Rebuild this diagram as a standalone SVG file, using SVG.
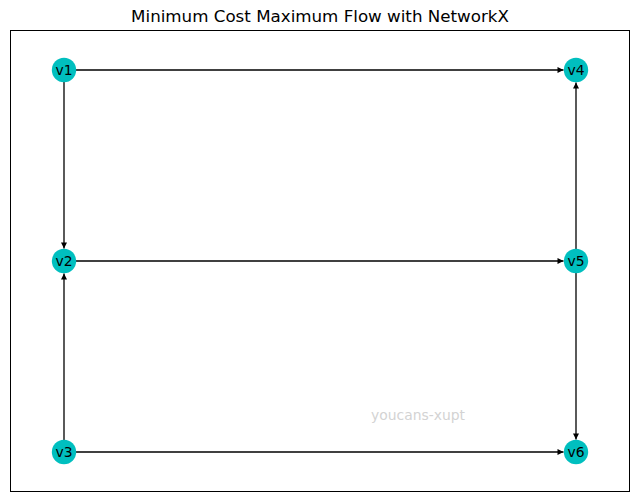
<svg xmlns="http://www.w3.org/2000/svg" width="640" height="502" viewBox="0 0 640 502">
<style>
.edge{stroke:#000;stroke-width:1.3;fill:none}
.node circle{fill:#00bfbf}
.node text{font-family:"DejaVu Sans",sans-serif;font-size:13.9px;fill:#000;text-anchor:middle;dominant-baseline:central}
</style>
<defs>
<marker id="arr" viewBox="0 0 10 10" refX="10" refY="5" markerWidth="7.5" markerHeight="6" markerUnits="userSpaceOnUse" orient="auto">
<path d="M0,0 L10,5 L0,10 Z" fill="#000"/>
</marker>
</defs>
<rect width="640" height="502" fill="#fff"/>
<rect x="10.5" y="30.5" width="619" height="461" fill="none" stroke="#000" stroke-width="1"/>
<text x="320" y="22" font-family="DejaVu Sans,sans-serif" font-size="16.7px" text-anchor="middle">Minimum Cost Maximum Flow with NetworkX</text>
<text x="418" y="420" font-family="DejaVu Sans,sans-serif" font-size="13.9px" fill="#d3d3d3" text-anchor="middle">youcans-xupt</text>
<g id="edges">
<line class="edge" x1="64" y1="70" x2="563.5" y2="70" marker-end="url(#arr)"/>
<line class="edge" x1="64" y1="70" x2="64" y2="248.5" marker-end="url(#arr)"/>
<line class="edge" x1="64" y1="261" x2="563.5" y2="261" marker-end="url(#arr)"/>
<line class="edge" x1="64" y1="452" x2="64" y2="273.5" marker-end="url(#arr)"/>
<line class="edge" x1="64" y1="452" x2="563.5" y2="452" marker-end="url(#arr)"/>
<line class="edge" x1="576" y1="261" x2="576" y2="82.5" marker-end="url(#arr)"/>
<line class="edge" x1="576" y1="261" x2="576" y2="439.5" marker-end="url(#arr)"/>
</g>
<g id="v1" class="node"><circle cx="64" cy="70" r="12.2"/><text x="64" y="70">v1</text></g>
<g id="v2" class="node"><circle cx="64" cy="261" r="12.2"/><text x="64" y="261">v2</text></g>
<g id="v3" class="node"><circle cx="64" cy="452" r="12.2"/><text x="64" y="452">v3</text></g>
<g id="v4" class="node"><circle cx="576" cy="70" r="12.2"/><text x="576" y="70">v4</text></g>
<g id="v5" class="node"><circle cx="576" cy="261" r="12.2"/><text x="576" y="261">v5</text></g>
<g id="v6" class="node"><circle cx="576" cy="452" r="12.2"/><text x="576" y="452">v6</text></g>
</svg>
